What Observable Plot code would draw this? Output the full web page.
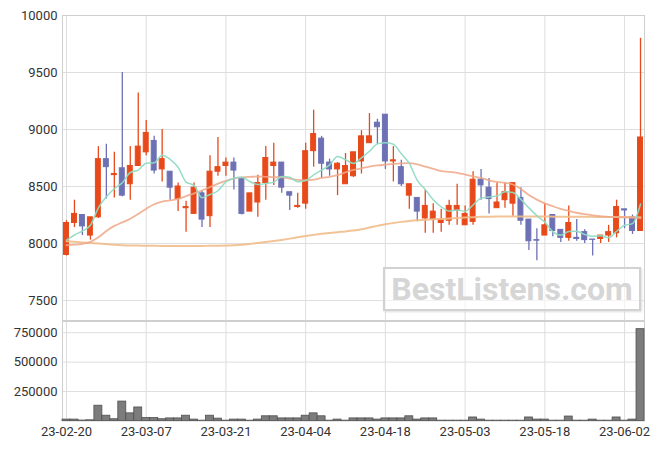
<!DOCTYPE html>
<html><head><meta charset="utf-8">
<script src="https://cdn.jsdelivr.net/npm/d3@7"></script>
<script src="https://cdn.jsdelivr.net/npm/@observablehq/plot@0.6"></script>
<style>
body{margin:0;background:#fff;}
#wrap{position:relative;width:663px;height:449px;font-family:Roboto,sans-serif;overflow:hidden;}
#price{position:absolute;left:0;top:0;}
#vol{position:absolute;left:0;top:320px;}
#wm{position:absolute;left:383px;top:267px;width:254px;height:40px;border:2px solid #d2d2d2;box-shadow:1px 1px 2px #ddd;
  font:bold 32px Roboto,sans-serif;color:#d6d6d6;text-align:center;line-height:40px;letter-spacing:0px;background:rgba(255,255,255,0.6);}
</style></head>
<body><div id="wrap"><div id="price"></div><div id="vol"></div><div id="wm">BestListens.com</div></div>
<script>
const dates = ["23-02-20","23-02-21","23-02-22","23-02-23","23-02-24","23-02-27","23-02-28","23-03-02","23-03-03","23-03-06",
"23-03-07","23-03-08","23-03-09","23-03-10","23-03-13","23-03-14","23-03-15","23-03-16","23-03-17","23-03-20",
"23-03-21","23-03-22","23-03-23","23-03-24","23-03-27","23-03-28","23-03-29","23-03-30","23-03-31","23-04-03",
"23-04-04","23-04-05","23-04-06","23-04-07","23-04-10","23-04-11","23-04-12","23-04-13","23-04-14","23-04-17",
"23-04-18","23-04-19","23-04-20","23-04-21","23-04-24","23-04-25","23-04-26","23-04-27","23-04-28","23-05-02",
"23-05-03","23-05-04","23-05-08","23-05-09","23-05-10","23-05-11","23-05-12","23-05-15","23-05-16","23-05-17",
"23-05-18","23-05-19","23-05-22","23-05-23","23-05-24","23-05-25","23-05-26","23-05-30","23-05-31","23-06-01",
"23-06-02","23-06-05","23-06-07"];
const open = [7900,8180,8250,8070,8230,8740,8600,8660,8520,8680,
8800,8900,8650,8630,8390,8310,8260,8440,8240,8630,
8680,8710,8570,8280,8360,8530,8680,8710,8450,8320,
8350,8810,8920,8710,8650,8520,8590,8720,8880,9060,
9130,8720,8670,8420,8400,8220,8210,8180,8200,8290,
8160,8190,8560,8490,8310,8380,8350,8400,8210,8030,
8070,8250,8120,8050,8050,8100,8035,8040,8070,8090,
8300,8230,8110];
const high = [8200,8380,8250,8230,8850,8870,8800,9500,8850,9320,
9080,8940,9000,8630,8530,8370,8530,8460,8770,8930,
8750,8750,8570,8440,8600,8850,8880,8710,8450,8440,
8880,9170,8940,8740,8710,8790,8800,8990,9140,9090,
9130,8850,8730,8520,8400,8470,8350,8300,8380,8520,
8330,8630,8650,8570,8530,8530,8530,8490,8210,8130,
8350,8250,8120,8330,8210,8120,8035,8070,8160,8380,
8300,8250,9800];
const low = [7890,8140,8070,8030,8220,8390,8400,8410,8380,8680,
8770,8610,8540,8380,8280,8100,8260,8140,8140,8590,
8590,8470,8250,8280,8230,8380,8510,8440,8290,8310,
8300,8670,8570,8590,8420,8520,8580,8610,8880,8870,
8650,8540,8500,8300,8190,8090,8090,8100,8160,8160,
8160,8160,8380,8260,8310,8310,8240,8160,7940,7850,
8070,8060,8010,8020,8020,8000,7890,8000,8010,8050,
8130,8080,8110];
const close = [8180,8260,8150,8230,8740,8670,8610,8420,8680,8850,
8970,8640,8740,8490,8500,8320,8490,8210,8630,8670,
8710,8640,8260,8440,8530,8750,8710,8490,8420,8330,
8810,8960,8700,8650,8700,8680,8800,8940,8940,9020,
8720,8730,8520,8520,8280,8330,8280,8210,8330,8330,
8260,8560,8510,8390,8360,8450,8530,8200,8020,8025,
8160,8110,8050,8180,8040,8030,8032,8070,8100,8320,
8290,8110,8930];
const volume = [12000,12000,4000,6000,130000,45000,15000,165000,65000,115000,
25000,25000,15000,22000,22000,45000,12000,3000,45000,20000,
3000,12000,12000,3000,12000,40000,40000,22000,22000,22000,
45000,65000,40000,3000,12000,3000,22000,22000,22000,12000,
22000,22000,22000,40000,12000,22000,22000,3000,3000,3000,
3000,30000,12000,3000,3000,3000,3000,3000,30000,12000,
12000,3000,3000,38000,3000,3000,12000,3000,3000,30000,
3000,12000,780000];
const ma5 = [8030,8075,8110,8160,8313,8411,8481,8533,8623,8644,
8705,8709,8775,8739,8669,8539,8510,8402,8430,8463,
8541,8572,8582,8544,8517,8526,8539,8587,8581,8541,
8553,8602,8643,8690,8763,8736,8703,8752,8809,8874,
8883,8871,8787,8703,8554,8474,8384,8322,8285,8295,
8282,8338,8398,8409,8416,8454,8447,8387,8313,8245,
8188,8105,8074,8105,8108,8080,8063,8068,8052,8108,
8160,8175,8347];
const ma20 = [7985,7990,7998,8015,8055,8110,8155,8185,8218,8260,
8305,8345,8368,8378,8392,8415,8440,8465,8495,8525,
8550,8570,8580,8585,8588,8585,8582,8580,8570,8558,
8555,8560,8575,8585,8600,8625,8645,8660,8675,8685,
8692,8698,8703,8705,8695,8675,8655,8635,8628,8620,
8605,8590,8575,8555,8540,8532,8518,8478,8425,8385,
8352,8327,8305,8287,8270,8257,8247,8240,8234,8231,
8229,8228,8222];
const ma60 = [8020,8015,8010,8005,8000,7995,7990,7986,7983,7982,
7980,7980,7979,7979,7978,7978,7978,7979,7980,7981,
7982,7985,7990,7997,8005,8013,8022,8032,8043,8055,
8066,8076,8085,8093,8100,8106,8115,8125,8140,8155,
8170,8180,8190,8198,8204,8208,8213,8216,8220,8224,
8228,8231,8234,8236,8237,8237,8237,8237,8237,8237,
8237,8236,8236,8235,8235,8234,8234,8233,8233,8232,
8232,8231,8230];
const tickLabels = ["23-02-20","23-03-07","23-03-21","23-04-04","23-04-18","23-05-03","23-05-18","23-06-02"];
const priceTicks = [7500,8000,8500,9000,9500,10000];
const volumeTicks = [250000,500000,750000];

const UP = "#e8491a", DOWN = "#6d71b4";
const idx = d3.range(dates.length);
const tickIdx = tickLabels.map(t => dates.indexOf(t));
const candles = idx.map(i => ({i, open: open[i], high: high[i], low: low[i], close: close[i]}));
const ups = candles.filter(d => d.close >= d.open);
const downs = candles.filter(d => d.close < d.open);
const xDomain = [-0.5, dates.length - 0.5];
const GRID = "#dedede";
const style = {fontFamily: "Roboto, sans-serif", fontSize: "13px", color: "#333", background: "transparent"};

const price = Plot.plot({
  width: 663, height: 321,
  marginLeft: 62, marginRight: 19, marginTop: 15, marginBottom: 1,
  style,
  x: {domain: xDomain, axis: null},
  y: {domain: [7325, 10000], axis: null},
  marks: [
    Plot.ruleX(tickIdx, {stroke: GRID}),
    Plot.ruleY(priceTicks, {stroke: GRID}),
    Plot.frame({stroke: "#cfcfcf"}),
    Plot.ruleX(ups, {x: "i", y1: "low", y2: "high", stroke: UP, strokeWidth: 1.3}),
    Plot.ruleX(downs, {x: "i", y1: "low", y2: "high", stroke: DOWN, strokeWidth: 1.3}),
    Plot.rectY(ups, {x1: d => d.i - 0.31, x2: d => d.i + 0.31, y1: "open", y2: "close", fill: UP, stroke: UP, strokeWidth: 1}),
    Plot.rectY(downs, {x1: d => d.i - 0.31, x2: d => d.i + 0.31, y1: "open", y2: "close", fill: DOWN, stroke: DOWN, strokeWidth: 1}),
    Plot.line(idx, {x: i => i, y: i => ma60[i], stroke: "#f0bd8a", strokeWidth: 2, strokeOpacity: 0.9, curve: "monotone-x"}),
    Plot.line(idx, {x: i => i, y: i => ma20[i], stroke: "#eea787", strokeWidth: 1.8, strokeOpacity: 0.85, curve: "monotone-x"}),
    Plot.line(idx, {x: i => i, y: i => ma5[i], stroke: "#8fdbc3", strokeWidth: 1.5, strokeOpacity: 0.95, curve: "monotone-x"}),
    Plot.axisY({ticks: priceTicks, tickSize: 0, tickPadding: 5, label: null, tickFormat: d3.format("d")})
  ]
});
document.getElementById("price").append(price);

const vol = Plot.plot({
  width: 663, height: 129,
  marginLeft: 62, marginRight: 19, marginTop: 1, marginBottom: 28.5,
  style,
  x: {domain: xDomain},
  y: {domain: [0, 845000]},
  marks: [
    Plot.ruleX(tickIdx, {stroke: GRID}),
    Plot.ruleY(volumeTicks, {stroke: GRID}),
    Plot.frame({stroke: "#cfcfcf"}),
    Plot.rectY(idx, {x1: i => i - 0.5, x2: i => i + 0.5, y1: 0, y2: i => volume[i], fill: "#7c7c7c", stroke: "#505050", strokeWidth: 0.8}),
    Plot.axisY({ticks: volumeTicks, tickSize: 0, tickPadding: 5, label: null, tickFormat: d3.format("d")}),
    Plot.axisX({ticks: tickIdx, tickSize: 0, tickPadding: 6, label: null, tickFormat: i => dates[i]})
  ]
});
document.getElementById("vol").append(vol);
</script></body></html>
